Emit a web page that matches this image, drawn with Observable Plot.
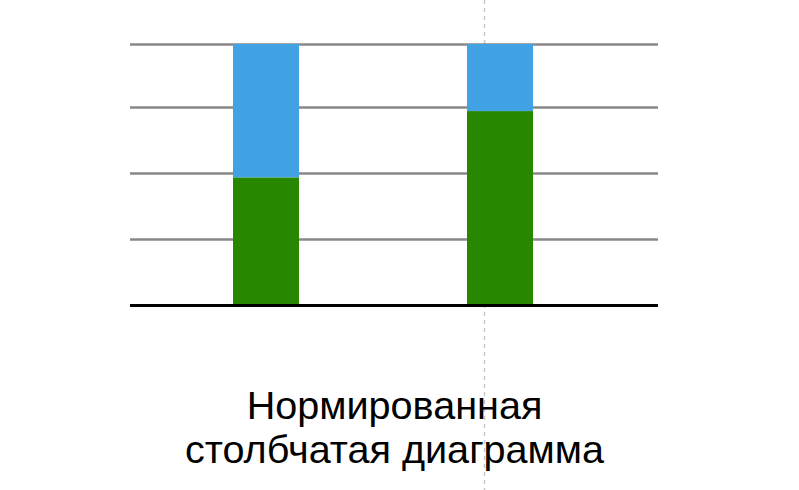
<!DOCTYPE html>
<html>
<head>
<meta charset="utf-8">
<script src="https://cdn.jsdelivr.net/npm/d3@7"></script>
<script src="https://cdn.jsdelivr.net/npm/@observablehq/plot@0.6"></script>
<style>
  html, body { margin: 0; padding: 0; background: #fff; }
  svg { display: block; }
</style>
</head>
<body>
<div id="chart"></div>
<script>
const categories = ["A", "B"];
const lowerValues = [0.489, 0.743];   // green
const upperValues = [0.511, 0.257];   // blue
const gridTicks = [0, 0.253, 0.506, 0.759, 1];
const guideCategory = ["B"];
const title = "Нормированная\nстолбчатая диаграмма";

const data = [];
categories.forEach((c, i) => {
  data.push({cat: c, series: "lower", value: lowerValues[i]});
  data.push({cat: c, series: "upper", value: upperValues[i]});
});

const chart = Plot.plot({
  width: 799,
  height: 490,
  marginTop: 44,
  marginBottom: 185,
  marginLeft: 130,
  marginRight: 141,
  style: {fontFamily: "'Liberation Sans', Arial, sans-serif", background: "#fff"},
  x: {domain: categories, paddingInner: 0.718, paddingOuter: 0.486, align: 0.451, axis: null},
  y: {domain: [0, 1], axis: null},
  color: {domain: ["lower", "upper"], range: ["#278800", "#41a2e4"]},
  marks: [
    Plot.ruleX(guideCategory, {dx: -16, insetTop: -44, insetBottom: -185, stroke: "#c8c8c8", strokeWidth: 1.5, strokeDasharray: "4,4"}),
    Plot.ruleY(gridTicks.slice(1), {stroke: "#888", strokeWidth: 2.5}),
    Plot.barY(data, {x: "cat", y: "value", fill: "series", order: ["lower", "upper"]}),
    Plot.ruleY([0], {stroke: "#000", strokeWidth: 3}),
    Plot.text([title], {frameAnchor: "bottom", lineAnchor: "top", dy: 82, fontSize: 39.6, lineHeight: 1.11, fill: "#000"})
  ]
});
document.getElementById("chart").appendChild(chart);
</script>
</body>
</html>
